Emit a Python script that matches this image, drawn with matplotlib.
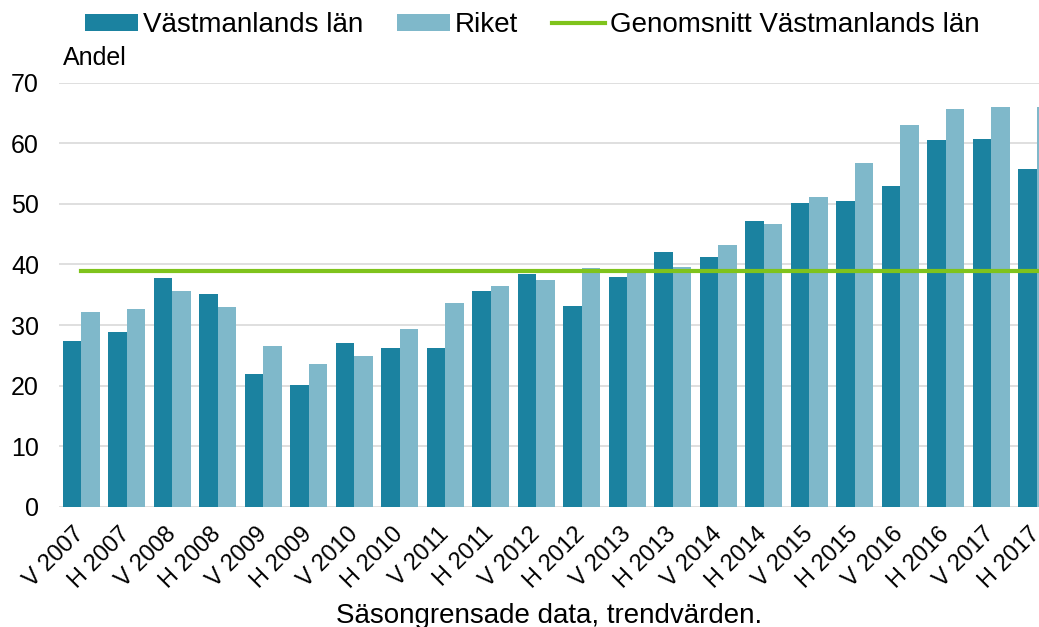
import matplotlib.pyplot as plt
import numpy as np

plt.rcParams['font.family'] = ['Liberation Sans', 'DejaVu Sans']

perioder = ["V 2007", "H 2007", "V 2008", "H 2008", "V 2009", "H 2009",
            "V 2010", "H 2010", "V 2011", "H 2011", "V 2012", "H 2012",
            "V 2013", "H 2013", "V 2014", "H 2014", "V 2015", "H 2015",
            "V 2016", "H 2016", "V 2017", "H 2017"]
vastmanland = [27.4, 28.9, 37.7, 35.2, 21.9, 20.1, 27.0, 26.2, 26.2, 35.7, 38.5,
               33.1, 37.9, 42.0, 41.3, 47.2, 50.1, 50.4, 52.9, 60.5, 60.7, 55.7]
riket = [32.1, 32.7, 35.7, 32.9, 26.6, 23.6, 24.9, 29.3, 33.7, 36.5, 37.5,
         39.4, 38.9, 39.6, 43.2, 46.6, 51.2, 56.7, 63.0, 65.6, 66.0, 66.0]
genomsnitt = 38.9

dark = '#1B82A0'
light = '#7FB8CA'
green = '#7FC31C'

fig = plt.figure(figsize=(10.39, 6.27), dpi=100)
ax = fig.add_axes([58.5 / 1039, 120 / 627, 1 - 58.5 / 1039, 424.5 / 627])

x = np.arange(len(perioder))
w = 0.41
b1 = ax.bar(x - w / 2, vastmanland, w, color=dark, label='Västmanlands län', zorder=2)
b2 = ax.bar(x + w / 2, riket, w, color=light, label='Riket', zorder=2)
l1, = ax.plot(x, [genomsnitt] * len(x), color=green, lw=3, zorder=3,
              label='Genomsnitt Västmanlands län')

ax.set_xlim(-0.5, 21.05)
ax.set_ylim(0, 70)
ax.set_yticks(range(0, 71, 10))
ax.yaxis.grid(True, color='#D9D9D9', lw=1.2, zorder=0)
ax.set_axisbelow(True)
for s in ax.spines.values():
    s.set_visible(False)
ax.tick_params(axis='both', length=0, labelsize=18)
ax.tick_params(axis='y', pad=14)
ax.set_xticks(x)
ax.set_xticklabels(perioder, rotation=45, ha='right', va='center',
                   rotation_mode='anchor', fontsize=17)
ax.tick_params(axis='x', pad=17)

fig.text(63 / 1039, 1 - 58 / 627, 'Andel', fontsize=18, va='center', ha='left')
fig.text(549 / 1039, 1 - 616 / 627, 'Säsongrensade data, trendvärden.',
         fontsize=20, ha='center', va='center')

fig.legend([b1, b2, l1], [b1.get_label(), b2.get_label(), l1.get_label()],
           loc='center left', bbox_to_anchor=(85 / 1039, 1 - 25 / 627), ncol=3,
           frameon=False, fontsize=20, handlelength=1.9, handleheight=0.55,
           handletextpad=0.2, columnspacing=1.2, borderaxespad=0, borderpad=0)

fig.savefig('out.png', dpi=100)
